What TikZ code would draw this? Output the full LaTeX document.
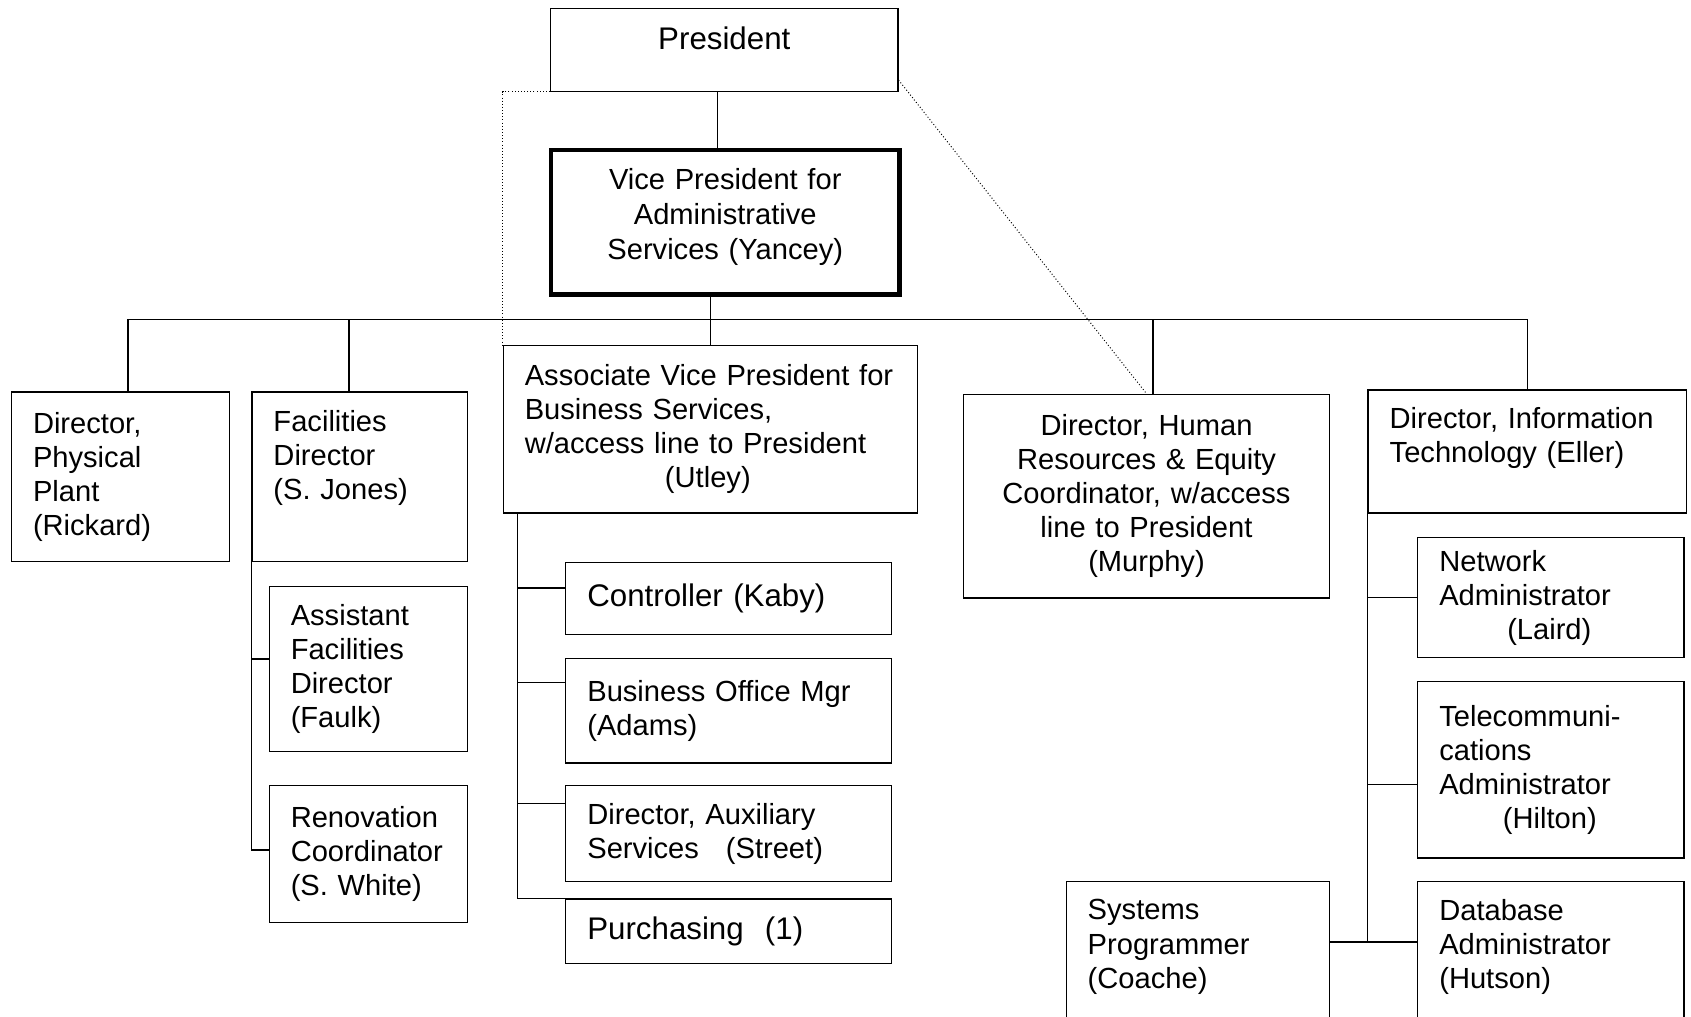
\documentclass[tikz,border=0pt]{standalone}
\usepackage{fontspec}
\setmainfont{Liberation Sans}
\usetikzlibrary{positioning, calc}

\tikzset{
	box/.style={draw, line width=1.2pt, anchor=north west, inner xsep=20pt, inner ysep=0pt, align=left, font=\fontsize{27pt}{31.6pt}\selectfont},
	bigbox/.style={box, font=\fontsize{29pt}{33pt}\selectfont},
	link/.style={line width=1.2pt},
	access/.style={dotted, line width=0.9pt},
}

\begin{document}
\begin{tikzpicture}[x=1pt, y=-1pt]
	\useasboundingbox (0,0) rectangle (1568,943);
	\clip (0,0) rectangle (1568,943);
	\node[bigbox, align=center, minimum width=322pt, minimum height=77pt, text depth=21pt] (pres) at (510,7) {President};
	\node[box, align=center, line width=4pt, text width=283pt, minimum height=134pt, text depth=80pt, font=\fontsize{27pt}{32.5pt}\selectfont] (vp) at (509,137) {Vice President for\\Administrative\\Services (Yancey)};
	\node[box, text width=162pt, minimum height=157pt] (plant) at (10,363) {Director,\\Physical\\Plant\\(Rickard)};
	\node[box, text width=160pt, minimum height=157pt, text depth=103pt] (fac) at (233,363) {Facilities\\Director\\(S. Jones)};
	\node[box, text width=144pt, minimum height=153pt] (asst) at (249,543) {Assistant\\Facilities\\Director\\(Faulk)};
	\node[box, text width=144pt, minimum height=127pt] (renov) at (249,728) {Renovation\\Coordinator\\(S. White)};
	\node[box, text width=344pt, minimum height=155pt] (avp) at (466,320) {Associate Vice President for\\Business Services,\\w/access line to President\\\hspace*{130pt}(Utley)};
	\node[bigbox, text width=262pt, minimum height=67pt] (ctrl) at (524,521) {Controller (Kaby)};
	\node[box, text width=262pt, minimum height=97pt] (biz) at (524,610) {Business Office Mgr\\(Adams)};
	\node[box, text width=262pt, minimum height=89pt] (aux) at (524,728) {Director, Auxiliary\\Services\hspace{16pt} (Street)};
	\node[bigbox, text width=262pt, minimum height=60pt] (purch) at (524,833) {Purchasing\hspace{10pt} (1)};
	\node[box, align=center, text width=299pt, minimum height=189pt] (hr) at (893,365) {Director, Human\\Resources \& Equity\\Coordinator, w/access\\line to President\\(Murphy)};
	\node[box, text width=255pt, minimum height=114pt, text depth=62pt] (it) at (1268,361) {Director, Information\\Technology (Eller)};
	\node[box, text width=207pt, minimum height=111pt] (net) at (1314,498) {Network\\Administrator\\\hspace*{63pt}(Laird)};
	\node[box, text width=207pt, minimum height=164pt] (tel) at (1314,631) {Telecommuni-\\cations\\Administrator\\\hspace*{59pt}(Hilton)};
	\node[box, text width=207pt, minimum height=140pt, text depth=88pt] (db) at (1314,817) {Database\\Administrator\\(Hutson)};
	\node[box, text width=204pt, minimum height=140pt, text depth=88pt] (sys) at (988,817) {Systems\\Programmer\\(Coache)};

	\coordinate (bus) at (659,296);
	\draw[link] ([xshift=-6pt]pres.south) -- ([xshift=-6pt]pres.south |- vp.north);
	\draw[link] (vp.south -| avp.north) -- (avp.north);
	\draw[link] ([xshift=7pt]plant.north) |- (bus) -| (it.north);
	\draw[link] ([xshift=-10pt]fac.north) -- ([xshift=-10pt]fac.north |- bus);
	\draw[link] ([xshift=6pt]hr.north) -- ([xshift=6pt]hr.north |- bus);

	\draw[link] (fac.south west) |- ([yshift=9pt]asst.west);
	\draw[link] (fac.south west) |- ([yshift=4pt]renov.west);

	\draw[link] ([xshift=14pt]avp.south west) |- (purch.north west);
	\foreach \n/\dy in {ctrl/10, biz/26, aux/28}
		\draw[link] ([xshift=14pt]avp.south west) |- ([yshift=\dy pt]\n.west);

	\draw[link] (it.south west) |- (net.west);
	\draw[link] (it.south west) |- ([yshift=-14pt]tel.west);
	\draw[link] (it.south west) |- ([yshift=14pt]db.west);
	\draw[link] ([yshift=14pt]sys.east) -- ([yshift=14pt]db.west);

	% access lines to the President
	\draw[access] (pres.south west) -| (avp.north west);
	\draw[access] ([yshift=11pt]pres.south east) -- (hr.north);
\end{tikzpicture}
\end{document}
